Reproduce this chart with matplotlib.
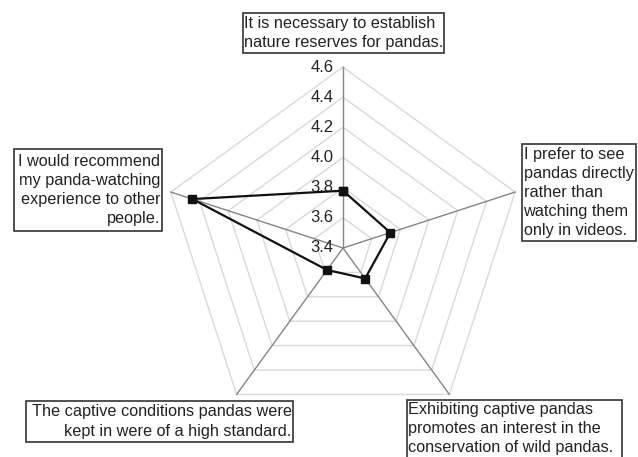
import numpy as np
import matplotlib
matplotlib.use("Agg")
import matplotlib.pyplot as plt
from matplotlib.patches import Rectangle

plt.rcParams["font.family"] = ["Liberation Sans", "DejaVu Sans"]

# survey statements, clockwise from the top
categories = [
    "It is necessary to establish\nnature reserves for pandas.",
    "I prefer to see\npandas directly\nrather than\nwatching them\nonly in videos.",
    "Exhibiting captive pandas\npromotes an interest in the\nconservation of wild pandas.",
    "The captive conditions pandas were\nkept in were of a high standard.",
    "I would recommend\nmy panda-watching\nexperience to other\npeople.",
]
scores = [3.78, 3.73, 3.65, 3.58, 4.45]
ring_levels = [3.4, 3.6, 3.8, 4.0, 4.2, 4.4, 4.6]
tick_labels = ["3.4", "3.6", "3.8", "4.0", "4.2", "4.4", "4.6"]

W, H = 638, 457
fig = plt.figure(figsize=(W / 100, H / 100), dpi=100)

# polar axes centred at (343, 248) px with radius 181 px
cx, cy, rad = 343, 248, 181
ax = fig.add_axes([(cx - rad) / W, 1 - (cy + rad) / H, 2 * rad / W, 2 * rad / H],
                  projection="polar")
ax.set_theta_zero_location("N")
ax.set_theta_direction(-1)
ax.set_ylim(ring_levels[0], ring_levels[-1])
ax.set_xticks([])
ax.set_yticks([])
ax.grid(False)
ax.spines["polar"].set_visible(False)
ax.patch.set_visible(False)

n = len(categories)
theta = np.linspace(0, 2 * np.pi, n, endpoint=False)
theta_closed = np.append(theta, theta[0])

# pentagon grid rings
for lvl in ring_levels[1:]:
    ax.plot(theta_closed, [lvl] * (n + 1), color="#d9d9d9", lw=1.0, zorder=1,
            clip_on=False)

# spokes
for t in theta:
    ax.plot([t, t], [ring_levels[0], ring_levels[-1]], color="#858585", lw=1.0,
            zorder=2, clip_on=False)

# value labels along the top spoke
for lvl, lab in zip(ring_levels, tick_labels):
    ax.annotate(lab, xy=(0, lvl), xytext=(-7, 0), textcoords="offset points",
                ha="right", va="center", fontsize=12, color="#222222", zorder=3,
                annotation_clip=False)

# data
vals = scores + scores[:1]
ax.plot(theta_closed, vals, color="#111111", lw=1.6, marker="s", markersize=6,
        zorder=5, clip_on=False)

# statement boxes (pixel bounds, alignment)
boxes = [
    (243, 13, 444, 53, "left"),
    (522, 144, 636, 241, "left"),
    (407, 400, 622, 470, "left"),
    (26, 401, 293, 442, "right"),
    (14, 149, 162, 231, "right"),
]
for (x0, y0, x1, y1, align), text in zip(boxes, categories):
    rect = Rectangle((x0 / W, 1 - y1 / H), (x1 - x0) / W, (y1 - y0) / H,
                     transform=fig.transFigure, fill=False, edgecolor="#333333",
                     lw=1.2)
    fig.add_artist(rect)
    tx = (x0 + 1.5) / W if align == "left" else (x1 - 1.5) / W
    if y1 > H:
        fig.text(tx, 1 - (y0 + 2) / H, text, ha=align, va="top", fontsize=11.7,
                 color="#222222", linespacing=1.34, multialignment=align)
    else:
        fig.text(tx, 1 - (y0 + y1) / 2 / H, text, ha=align, va="center",
                 fontsize=11.7, color="#222222", linespacing=1.34,
                 multialignment=align)

fig.savefig("out.png", dpi=100)
